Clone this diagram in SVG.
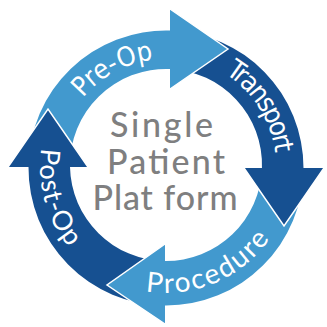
<svg xmlns="http://www.w3.org/2000/svg" width="327" height="327" viewBox="0 0 327 327">
<style>
.light{fill:#4299CE}
.dark{fill:#165091}
.edge{fill:none;stroke:#ffffff;stroke-width:1.5;stroke-linejoin:miter}
.lbl{fill:#ffffff;font-size:27px}
.cond{font-family:'Liberation Sans Narrow','DejaVu Sans Condensed','Roboto',sans-serif;font-stretch:condensed}
.round{font-family:'Lato','Open Sans',sans-serif}
.center{fill:#7F7F80;font-family:'Lato','Open Sans',sans-serif;font-size:34px;font-weight:500;text-anchor:middle}
</style>
<defs>
<path id="pPre" d="M65.5,127.4 A108,108 0 0 1 187.5,61.2"/>
<path id="pTrans" d="M198.3,61.4 A110,110 0 0 1 274.9,182.3"/>
<path id="pProc" d="M90.2,267.6 A126,126 0 0 0 291.1,182.4"/>
<path id="pPost" d="M62.2,95.6 A126,126 0 0 0 113.7,281.7"/>
</defs>
<g id="connectors">
<path class="light" d="M28.5,167 A137.5,137.5 0 0 1 170,30.56 L170,69.08 A96,96 0 0 0 70,167 Z"/>
<path class="dark" d="M170,30.56 A137.5,137.5 0 0 1 303.5,168 L261.95,168 A96,96 0 0 0 170,69.08 Z"/>
<path class="light" d="M303.5,168 A137.5,137.5 0 0 1 165,305.5 L165,261 A96,96 0 0 0 261.95,168 Z"/>
<path class="dark" d="M165,305.5 A137.5,137.5 0 0 1 28.5,167 L70,167 A96,96 0 0 0 165,261 Z"/>
</g>
<g id="pre-op">
<polygon class="light" points="170,9 228,49 170,89"/>
<polyline class="edge" points="170,9 228,49 170,89"/>
<text class="lbl cond"><textPath href="#pPre" startOffset="50%" text-anchor="middle" textLength="82">Pre-Op</textPath></text>
</g>
<g id="transport">
<polygon class="dark" points="244,168 284,226 324,168"/>
<polyline class="edge" points="244,168 284,226 324,168"/>
<text class="lbl cond"><textPath href="#pTrans" startOffset="50%" text-anchor="middle" textLength="97">Transport</textPath></text>
</g>
<g id="procedure">
<polygon class="light" points="165,244 107,285 165,324"/>
<polyline class="edge" points="165,244 107,285 165,324"/>
<text class="lbl round" style="font-size:28px"><textPath href="#pProc" startOffset="50%" text-anchor="middle" textLength="142">Procedure</textPath></text>
</g>
<g id="post-op">
<polygon class="dark" points="8,167 48,109 88,167"/>
<polyline class="edge" points="8,167 48,109 88,167"/>
<text class="lbl round" style="font-size:27px"><textPath href="#pPost" startOffset="50%" text-anchor="middle" textLength="106">Post-Op</textPath></text>
</g>
<g id="single-patient-platform">
<text class="center" x="161.5" y="137" textLength="103">Single</text>
<text class="center" x="166" y="174" textLength="118">Patient</text>
<text class="center" x="165" y="210" textLength="145">Plat form</text>
</g>
</svg>
